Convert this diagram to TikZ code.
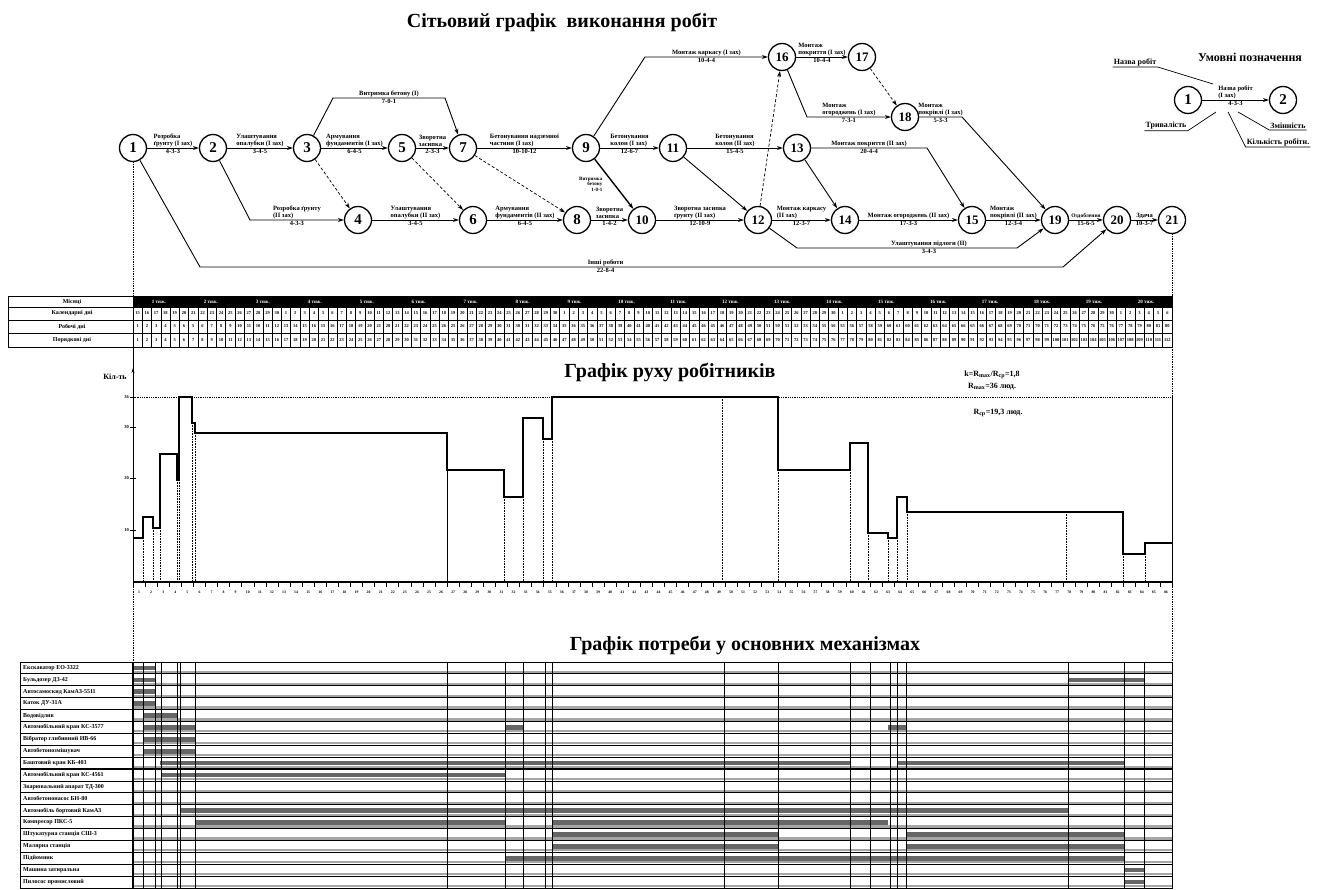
\documentclass[tikz,border=0pt]{standalone}
\usepackage{fontspec}
\setmainfont{Liberation Serif}
\usetikzlibrary{arrows.meta}
\tikzset{
 ev/.style={circle,draw,line width=1.3pt,minimum size=27pt,inner sep=0pt,fill=white,font=\fontsize{15}{15}\selectfont\bfseries},
 evv/.style={ev,font=\fontsize{13}{13}\selectfont\bfseries},
 lab/.style={font=\fontsize{6.5}{7}\selectfont\bfseries,inner sep=1pt,align=left},
 dur/.style={font=\fontsize{6.5}{7}\selectfont\bfseries,inner sep=1pt},
 slab/.style={font=\fontsize{5.5}{6}\selectfont\bfseries,inner sep=1pt},
 tlab/.style={font=\fontsize{5}{5.6}\selectfont\bfseries,inner sep=0.5pt,align=right},
 work/.style={line width=0.9pt,-{Stealth[length=6pt,width=4pt]}},
 dum/.style={line width=0.7pt,densely dashed,-{Stealth[length=6pt,width=4pt]}},
 ttl/.style={font=\fontsize{20}{20}\selectfont\bfseries},
 note/.style={font=\fontsize{8}{9}\selectfont\bfseries,inner sep=1pt},
 cell/.style={font=\fontsize{4.5}{4.5}\selectfont\bfseries,inner sep=0pt},
 mrow/.style={font=\fontsize{6}{6}\selectfont\bfseries,inner sep=0pt,anchor=west},
 prof/.style={line width=1.5pt,line join=miter},
 drop/.style={densely dotted,line width=0.6pt},
 guide/.style={densely dotted,line width=0.7pt},
}
\newcommand\mechbar[3]{\fill[black!60] (#2,{662+(#1-0.5)*11.8947-2.3}) rectangle (#3,{662+(#1-0.5)*11.8947+2.3});}
\begin{document}
\begin{tikzpicture}[x=1pt,y=-1pt]
\useasboundingbox (0,0) rectangle (1319,890);

% ---------- titles ----------
\node[ttl] (t1) at (562,22) {Сітьовий графік\ \ виконання робіт};
\node[ttl] (t2) at (670,372) {Графік руху робітників};
\node[ttl] (t3) at (745,645) {Графік потреби у основних механізмах};

% ---------- network events ----------
\node[ev] (n1) at (133,148) {1};
\node[ev] (n2) at (213,148) {2};
\node[ev] (n3) at (307,148) {3};
\node[ev] (n5) at (402,148) {5};
\node[ev] (n7) at (463,148) {7};
\node[ev] (n9) at (586,148) {9};
\node[evv] (n11) at (673,148) {11};
\node[evv] (n13) at (797,148) {13};
\node[evv] (n16) at (782,57) {16};
\node[evv] (n17) at (862,57) {17};
\node[evv] (n18) at (905,117) {18};
\node[ev] (n4) at (358,220) {4};
\node[ev] (n6) at (473,220) {6};
\node[ev] (n8) at (577,220) {8};
\node[evv] (n10) at (642,220) {10};
\node[evv] (n12) at (758,220) {12};
\node[evv] (n14) at (845,220) {14};
\node[evv] (n15) at (972,220) {15};
\node[evv] (n19) at (1055,220) {19};
\node[evv] (n20) at (1117,220) {20};
\node[evv] (n21) at (1172,220) {21};

% ---------- network works ----------
\draw[work] (n1) -- (n2) node[lab,midway,above]{Розробка\\ґрунту (І зах)} node[dur,midway,below]{4-3-3};
\draw[work] (n2) -- (n3) node[lab,midway,above]{Улаштування\\опалубки (І зах)} node[dur,midway,below]{3-4-5};
\draw[work] (n3) -- (333,98) -- (445,98) node[lab,midway,above]{Витримка бетону (І)} node[dur,midway,below]{7-0-1} -- (n7);
\draw[work] (n3) -- (n5) node[lab,midway,above]{Армування\\фундаментів (І зах)} node[dur,midway,below]{6-4-5};
\draw[work] (n5) -- (n7) node[lab,midway,above]{Зворотна\\засипка} node[dur,midway,below]{2-3-3};
\draw[work] (n7) -- (n9) node[lab,midway,above]{Бетонування надземної\\частини (І зах)} node[dur,midway,below]{10-10-12};
\draw[work] (n2) -- (250,220) -- (n4) node[lab,midway,above]{Розробка ґрунту\\(ІІ зах)} node[dur,midway,below]{4-3-3};
\draw[dum] (n3) -- (n4);
\draw[work] (n4) -- (n6) node[lab,midway,above]{Улаштування\\опалубки (ІІ зах)} node[dur,midway,below]{3-4-5};
\draw[dum] (n5) -- (n6);
\draw[work] (n6) -- (n8) node[lab,midway,above]{Армування\\фундаментів (ІІ зах)} node[dur,midway,below]{6-4-5};
\draw[dum] (n7) -- (n8);
\draw[work] (n1) -- (200,267) -- (1063,267) node[lab,pos=0.47,above]{Інші роботи} node[dur,pos=0.47,below]{22-8-4} -- (n20);
\draw[work] (n9) -- (645,57) -- (n16) node[lab,midway,above]{Монтаж каркасу (І зах)} node[dur,midway,below]{10-4-4};
\draw[work] (n9) -- (n11) node[lab,midway,above]{Бетонування\\колон (І зах)} node[dur,midway,below]{12-6-7};
\draw[line width=1.4pt,-{Stealth[length=6pt,width=4pt]}] (n9) -- (n10);
\node[tlab,anchor=east] (w910) at (603,184) {Витримка\\бетону\\1-0-1};
\draw[work] (n8) -- (n10) node[lab,midway,above]{Зворотна\\засипка} node[dur,midway,below]{1-4-2};
\draw[work] (n10) -- (n12) node[lab,midway,above]{Зворотна засипка\\ґрунту (ІІ зах)} node[dur,midway,below]{12-10-9};
\draw[work] (n11) -- (n13) node[lab,midway,above]{Бетонування\\колон (ІІ зах)} node[dur,midway,below]{15-4-5};
\draw[work] (n11) -- (n12);
\draw[dum] (n12) -- (n16);
\draw[work] (n16) -- (n17) node[lab,midway,above]{Монтаж\\покриття (І зах)} node[dur,midway,below]{10-4-4};
\draw[work] (n16) -- (807,117) -- (n18) node[lab,midway,above]{Монтаж\\огороджень (І зах)} node[dur,midway,below]{7-3-1};
\draw[dum] (n17) -- (n18);
\draw[work] (n18) -- (962,117) node[lab,midway,above]{Монтаж\\покрівлі (І зах)} node[dur,midway,below]{5-3-3} -- (n19);
\draw[work] (n13) -- (927,148) node[lab,midway,above]{Монтаж покриття (ІІ зах)} node[dur,midway,below]{20-4-4} -- (n15);
\draw[work] (n13) -- (n14);
\draw[work] (n12) -- (n14) node[lab,midway,above]{Монтаж каркасу\\(ІІ зах)} node[dur,midway,below]{12-3-7};
\draw[work] (n14) -- (n15) node[lab,midway,above]{Монтаж огороджень (ІІ зах)} node[dur,midway,below]{17-3-3};
\draw[work] (n12) -- (797,248) -- (1017,248) node[lab,pos=0.6,above]{Улаштування підлоги (ІІ)} node[dur,pos=0.6,below]{3-4-3} -- (n19);
\draw[work] (n15) -- (n19) node[lab,midway,above]{Монтаж\\покрівлі (ІІ зах)} node[dur,midway,below]{12-3-4};
\draw[work] (n19) -- (n20) node[slab,midway,above]{Оздоблення} node[dur,midway,below]{15-6-5};
\draw[work] (n20) -- (n21) node[lab,midway,above]{Здача} node[dur,midway,below]{10-3-7};

% ---------- legend ----------
\node[font=\fontsize{12}{12}\selectfont\bfseries] (lt) at (1250,57) {Умовні позначення};
\node[ev] (l1) at (1188,100) {1};
\node[ev] (l2) at (1283,100) {2};
\draw[work] (l1) -- (l2) node[lab,midway,above]{Назва робіт\\(І зах)} node[dur,midway,below]{4-3-3};
\node[note] (lnm) at (1135,62) {Назва робіт};
\draw[line width=0.7pt] (lnm.south west) -- (lnm.south east) -- (1213,84);
\node[note] (ltr) at (1166,126) {Тривалість};
\draw[line width=0.7pt] (1216,112) -- (ltr.south east) -- (ltr.south west);
\node[note] (lzm) at (1288,126) {Змінність};
\draw[line width=0.7pt] (1238,112) -- (lzm.south west) -- (lzm.south east);
\node[note] (lkr) at (1278,142) {Кількість робітн.};
\draw[line width=0.7pt] (1228,112) -- (lkr.south west) -- (lkr.south east);

% ---------- guides ----------
\draw[guide] (n1) -- (133,297);
\draw[guide] (n21) -- (1172,297);

% ---------- time scale table ----------
\def\cw{9.2768}
\fill (133,297) rectangle (1172,307);
\foreach \i [count=\wk] in {0,...,19}
  \node[cell,white,font=\fontsize{5}{5}\selectfont\bfseries] (wk\wk) at ({133+(\i+0.5)*51.95},302) {\wk~тиж.};
\foreach \i in {1,...,111} \draw[line width=0.6pt] ({133+\i*\cw},307) -- ({133+\i*\cw},347);
\foreach \i in {1,...,112} {
  \pgfmathtruncatemacro\caldn{mod(\i+13,30)+1}
  \pgfmathtruncatemacro\wrkdn{\i-2*floor(\i/7)}
  \node[cell] (ca\i) at ({133+(\i-0.5)*\cw},313.5) {\caldn};
  \node[cell] (cb\i) at ({133+(\i-0.5)*\cw},326.5) {\wrkdn};
  \node[cell] (cc\i) at ({133+(\i-0.5)*\cw},340) {\i};
}
\draw[line width=1pt] (8,297) rectangle (1172,347);
\foreach \yy in {307,320,333} \draw[line width=0.9pt] (8,\yy) -- (1172,\yy);
\draw[line width=1pt] (133,297) -- (133,347);
\node[font=\fontsize{6}{6}\selectfont\bfseries] (hm) at (72,302) {Місяці};
\node[font=\fontsize{6}{6}\selectfont\bfseries] (hc) at (72,313.5) {Календарні дні};
\node[font=\fontsize{6}{6}\selectfont\bfseries] (hr) at (72,326.5) {Робочі дні};
\node[font=\fontsize{6}{6}\selectfont\bfseries] (hp) at (72,340) {Порядкові дні};

% ---------- worker chart ----------
\draw[line width=1pt] (133,347) -- (133,380);
\draw[line width=1pt,-{Stealth[length=5pt,width=3pt]}] (133,582) -- (133,368);
\node[note] (kil) at (115,377) {Кіл-ть};
\draw[densely dotted,line width=0.8pt] (133,397) -- (1172,397);
\foreach \yy/\v in {397/36,427/30,478/20,530/10} {
  \draw[line width=0.8pt] (130,\yy) -- (136,\yy);
  \node[cell,anchor=east] (yl\v) at (129,\yy) {\v};
}
\foreach \xx/\yy in {143/538,153/528,160/528,177/480,179/480,192/423,195/433,504/497,523/497,543/439,552/439,722/397,778/470,850/470,868/533,888/538,897/538,907/512,1066/512,1123/554,1145/554}
  \draw[drop] (\xx,\yy) -- (\xx,582);
\draw[line width=1pt] (447,470) -- (447,582);
\draw[prof] (133,538) -- (143,538) -- (143,517) -- (153,517) -- (153,528) -- (160,528) -- (160,454) -- (177,454) -- (177,480) -- (179,480) -- (179,397) -- (192,397) -- (192,423) -- (195,423) -- (195,433) -- (447,433) -- (447,470) -- (504,470) -- (504,497) -- (523,497) -- (523,418) -- (543,418) -- (543,439) -- (552,439) -- (552,397) -- (778,397) -- (778,470) -- (850,470) -- (850,443) -- (868,443) -- (868,533) -- (888,533) -- (888,538) -- (897,538) -- (897,497) -- (907,497) -- (907,512) -- (1123,512) -- (1123,554) -- (1145,554) -- (1145,543) -- (1172,543);
\draw[line width=1pt] (1172,397) -- (1172,582);
\draw[guide] (1172,347) -- (1172,397);
\draw[line width=1.6pt] (133,582) -- (1172,582);
\def\tw{12.0814}
\foreach \i in {0,...,86} \draw[line width=0.6pt] ({133+\i*\tw},582) -- ({133+\i*\tw},587);
\foreach \i in {1,...,86} \node[cell,font=\fontsize{3.8}{4}\selectfont\bfseries] (xl\i) at ({133+(\i-0.5)*\tw},592) {\i};
\node[note] (rk) at (992,375) {k=R\textsubscript{max}/R\textsubscript{ср}=1,8};
\node[note] (rm) at (992,387) {R\textsubscript{max}=36 люд.};
\node[note] (rs) at (998,413) {R\textsubscript{ср}=19,3 люд.};
\draw[guide] (133,582) -- (133,662);
\draw[guide] (1172,582) -- (1172,662);

% ---------- machines table ----------
\def\mh{11.8947}
\foreach \r in {1,...,19}
  \draw[black!35,line width=2.2pt] (133,{662+\r*\mh-2}) -- (1172,{662+\r*\mh-2});
\mechbar{1}{133}{155} \mechbar{2}{133}{155} \mechbar{3}{133}{155} \mechbar{4}{133}{155}
\mechbar{5}{143}{177}
\mechbar{6}{143}{195} \mechbar{6}{505}{523} \mechbar{6}{888}{906}
\mechbar{7}{143}{195} \mechbar{8}{143}{195}
\mechbar{9}{160}{850} \mechbar{9}{897}{1124}
\mechbar{10}{161}{505}
\mechbar{13}{180}{1068}
\mechbar{14}{195}{505} \mechbar{14}{552}{888}
\mechbar{15}{552}{778} \mechbar{15}{907}{1124}
\mechbar{16}{552}{778} \mechbar{16}{907}{1124}
\mechbar{17}{505}{1124}
\mechbar{18}{1124}{1144} \mechbar{19}{1124}{1144}
\mechbar{2}{1068}{1144}
\foreach \r in {1,...,18}
  \draw[line width=0.8pt] (20,{662+\r*\mh}) -- (1172,{662+\r*\mh});
\draw[line width=1.4pt] (20,{662+9*\mh}) -- (1172,{662+9*\mh});
\foreach \xx in {143,155,161,177,180,195,447,505,523,545,552,724,778,850,870,890,897,906,1068,1124,1144}
  \draw[line width=0.8pt] (\xx,662) -- (\xx,888);
\draw[line width=1.2pt] (133,662) -- (133,888);
\draw[line width=1pt] (20,662) rectangle (1172,888);
\foreach \t [count=\r] in {Екскаватор ЕО-3322,Бульдозер ДЗ-42,Автосамоскид КамАЗ-5511,Каток ДУ-31А,Водовідлив,Автомобільний кран КС-3577,Вібратор глибинний ИВ-66,Автобетонозмішувач,Баштовий кран КБ-403,Автомобільний кран КС-4561,Зварювальний апарат ТД-300,Автобетононасос БН-80,Автомобіль бортовий КамАЗ,Компресор ПКС-5,Штукатурна станція СШ-3,Малярна станція,Підйомник,Машина затиральна,Пилосос промисловий}
  \node[mrow] (mr\r) at (23,{662+(\r-0.5)*\mh}) {\t};
\end{tikzpicture}
\end{document}
